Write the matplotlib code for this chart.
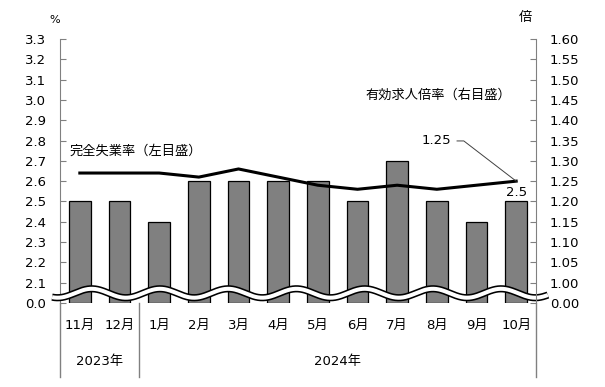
import numpy as np
import matplotlib

matplotlib.use('Agg')
import matplotlib.pyplot as plt
import matplotlib.transforms as mtransforms

plt.rcParams['font.family'] = ['DejaVu Sans', 'Noto Sans CJK JP']

# --- data ---
months = ['11月', '12月', '1月', '2月', '3月', '4月', '5月', '6月', '7月', '8月', '9月', '10月']
years = ['2023年', '2024年']
year_spans = [(0, 1), (2, 11)]          # first / last month index of each year
unemployment = [2.5, 2.5, 2.4, 2.6, 2.6, 2.6, 2.6, 2.5, 2.7, 2.5, 2.4, 2.5]      # 完全失業率 (%)
job_ratio = [1.27, 1.27, 1.27, 1.26, 1.28, 1.26, 1.24, 1.23, 1.24, 1.23, 1.24, 1.25]  # 有効求人倍率

left_ticks = np.round(np.arange(2.0, 3.31, 0.1), 2)
left_labels = ['0.0'] + ['{:.1f}'.format(t) for t in left_ticks[1:]]
right_ticks = np.round(np.arange(0.95, 1.601, 0.05), 2)
right_labels = ['0.00'] + ['{:.2f}'.format(t) for t in right_ticks[1:]]

GRAY = '#808080'

fig = plt.figure(figsize=(6.05, 3.87), dpi=100)
ax = fig.add_axes([60 / 605, 84 / 387, 476 / 605, 264 / 387])
x = np.arange(len(months))

ax.bar(x, np.array(unemployment) - left_ticks[0], bottom=left_ticks[0], width=0.55,
       color=GRAY, edgecolor='black', linewidth=0.9, zorder=2)
ax.set_xlim(-0.5, len(months) - 0.5)
ax.set_ylim(left_ticks[0], left_ticks[-1])
ax.set_yticks(left_ticks)
ax.set_yticklabels(left_labels)
ax.set_xticks([])

ax2 = ax.twinx()
ax2.set_ylim(right_ticks[0], right_ticks[-1])
ax2.set_yticks(right_ticks)
ax2.set_yticklabels(right_labels)
ax2.plot(x, job_ratio, color='black', linewidth=2.2, zorder=3)

for a in (ax, ax2):
    for s in ('top', 'bottom'):
        a.spines[s].set_visible(False)
    for s in ('left', 'right'):
        a.spines[s].set_color(GRAY)
    a.tick_params(axis='y', direction='in', length=4, color=GRAY, labelsize=9.5, pad=10)
ax.spines['right'].set_visible(False)
ax2.spines['left'].set_visible(False)

# wavy break band between 0 and the 2.1 / 1.00 ticks
wx = np.linspace(-0.7, 11.8, 600)
wy = left_ticks[0] + 0.048 + 0.022 * np.cos(2 * np.pi * (wx - 0.3) / 1.72)
ax.plot(wx, wy, color='black', linewidth=5.2, clip_on=False, zorder=5, solid_capstyle='butt')
ax.plot(wx, wy, color='white', linewidth=2.9, clip_on=False, zorder=6, solid_capstyle='butt')

# category axis below the plot
trans = mtransforms.blended_transform_factory(ax.transData, ax.transAxes)
sep_bottom = -74 / 264
for xs in [-0.5, 1.5, len(months) - 0.5]:
    ax.plot([xs, xs], [0, sep_bottom], transform=trans, color=GRAY, linewidth=1.0, clip_on=False)
for i, m in enumerate(months):
    ax.text(i, -22 / 264, m, transform=trans, ha='center', va='center', fontsize=9.5)
for (a0, a1), yl in zip(year_spans, years):
    ax.text((a0 + a1) / 2, -58 / 264, yl, transform=trans, ha='center', va='center', fontsize=9.5)

# unit labels
fig.text(55 / 605, 1 - 20 / 387, '%', ha='center', va='center', fontsize=8)
fig.text(525 / 605, 1 - 17 / 387, '倍', ha='center', va='center', fontsize=9.5)

# series labels
ax.text(-0.25, 2.745, '完全失業率（左目盛）', ha='left', va='center', fontsize=9.5)
ax.text(7.2, 3.023, '有効求人倍率（右目盛）', ha='left', va='center', fontsize=9.5)

# last-value annotations
ax.annotate('{}'.format(unemployment[-1]), xy=(x[-1], unemployment[-1]), xytext=(0, 2),
            textcoords='offset points', ha='center', va='bottom', fontsize=9.5)
ax2.plot([9.51, 9.68, x[-1]], [1.349, 1.349, job_ratio[-1]], color='#404040', linewidth=0.7, zorder=4)
ax2.text(9.35, 1.349, '{:.2f}'.format(job_ratio[-1]), ha='right', va='center', fontsize=9.5)

fig.savefig('out.png', dpi=100)
